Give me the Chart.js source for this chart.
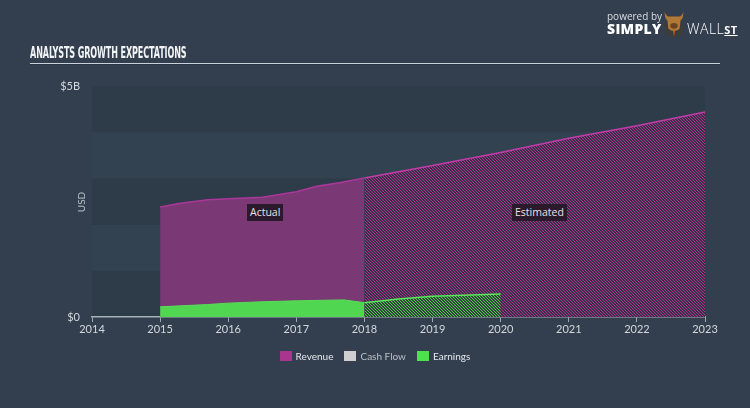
<!DOCTYPE html>
<html>
<head>
<meta charset="utf-8">
<script src="https://cdn.jsdelivr.net/npm/chart.js@4/dist/chart.umd.min.js"></script>
<style>
  html, body { margin: 0; padding: 0; }
  body {
    width: 750px; height: 408px; overflow: hidden; position: relative;
    background: #333f4e;
    font-family: Lato, "Open Sans", sans-serif;
  }
  #wrap { position: absolute; left: 0; top: 0; width: 750px; height: 408px; }
  .title {
    position: absolute; left: 30px; top: 43px;
    font-family: "Liberation Sans Narrow", "DejaVu Sans Condensed", sans-serif;
    font-weight: bold; font-size: 16px; color: #f2f4f6; letter-spacing: -0.2px;
    transform: scaleX(0.56); transform-origin: left top; white-space: nowrap;
  }
  .rule { position: absolute; left: 30px; top: 63px; width: 690px; height: 1px; background: #c9d1da; box-shadow: 0 1px 0 #283340; }
  .logo { position: absolute; left: 607px; top: 8px; color: #fff; }
  .logo .pw { position: absolute; left: 0; top: 1px; font-size: 10px; color: #d8dde2; white-space: nowrap; font-family: "Open Sans", sans-serif; }
  .logo .simply { position: absolute; left: 0; top: 11px; font-size: 14px; font-weight: 800; letter-spacing: 0.3px; font-family: "Open Sans", sans-serif; }
  .logo .wall { position: absolute; left: 80px; top: 11px; font-size: 14px; font-weight: 300; letter-spacing: 0.5px; font-family: "Open Sans", sans-serif; white-space: nowrap; }
  .logo .wall u { font-weight: 700; font-size: 11px; }
  .logo svg { position: absolute; left: 53px; top: 0px; }
  .tag {
    position: absolute; top: 204px; height: 17px; line-height: 17px; padding: 0 3px;
    background: #2b1a2b; color: #e6e2e6; font-size: 10.5px;
    font-family: "Open Sans", sans-serif;
  }
  .usd { position: absolute; left: 70px; top: 196px; width: 22px; text-align: center; transform: rotate(-90deg); font-size: 10px; color: #b6bec7; }
  .legend { position: absolute; top: 350px; left: 0; width: 750px; display: flex; justify-content: center; gap: 11px; font-size: 10px; }
  .legend .it { display: flex; align-items: center; gap: 4px; color: #e4e8ec; }
  .legend .sw { width: 12px; height: 10px; display: inline-block; }
</style>
</head>
<body>
<div id="wrap"><canvas id="chart" width="750" height="408"></canvas></div>
<div class="title">ANALYSTS GROWTH EXPECTATIONS</div>
<div class="rule"></div>
<div class="logo">
  <span class="pw">powered by</span>
  <span class="simply">SIMPLY</span>
  <svg width="28" height="30" viewBox="0 0 28 32">
    <circle cx="14" cy="21" r="11" fill="#3c3c3c"/>
    <path d="M4 4 Q6 10 9 9 L19 9 Q22 10 24 4 Q24 12 21 13 L20 22 Q14 27 8 22 L7 13 Q4 12 4 4 Z" fill="#b07a36"/>
    <ellipse cx="14" cy="19" rx="4" ry="3" fill="#6b4420"/>
    <path d="M13 24 L15 24 L14 31 Z" fill="#e05020"/>
  </svg>
  <span class="wall">WALL<u>ST</u></span>
</div>
<div class="usd">USD</div>
<div class="tag" style="left:247px;">Actual</div>
<div class="tag" style="left:512px;">Estimated</div>
<div class="legend">
  <div class="it"><span class="sw" style="background:#a8358e"></span>Revenue</div>
  <div class="it" style="color:#b9c0c7"><span class="sw" style="background:#cfcfcf"></span>Cash Flow</div>
  <div class="it"><span class="sw" style="background:#4fe04f"></span>Earnings</div>
</div>
<script>
// values in $B, x = year
const revenueActualX = [2015, 2015.3, 2015.7, 2016, 2016.5, 2017, 2017.3, 2017.65, 2018];
const revenueActualY = [2.38, 2.46, 2.54, 2.56, 2.59, 2.71, 2.83, 2.91, 3.01];
const revenueEstX = [2018, 2019, 2020, 2021, 2022, 2023];
const revenueEstY = [3.01, 3.28, 3.56, 3.87, 4.14, 4.44];
const earningsActualX = [2015, 2015.7, 2016, 2016.5, 2017, 2017.7, 2018];
const earningsActualY = [0.22, 0.27, 0.30, 0.33, 0.35, 0.37, 0.31];
const earningsEstX = [2018, 2018.5, 2019, 2020];
const earningsEstY = [0.31, 0.39, 0.45, 0.50];
const yearTicks = [2014, 2015, 2016, 2017, 2018, 2019, 2020, 2021, 2022, 2023];

const pts = (xs, ys) => xs.map((x, i) => ({ x, y: ys[i] }));

function hatch(bg, line) {
  const c = document.createElement('canvas');
  c.width = 3; c.height = 3;
  const g = c.getContext('2d');
  g.fillStyle = bg; g.fillRect(0, 0, 3, 3);
  g.fillStyle = line;
  for (let i = 0; i < 3; i++) g.fillRect(i, i, 1, 1);
  return g.createPattern(c, 'repeat');
}

const bands = {
  id: 'bands',
  beforeDraw(chart) {
    const { ctx, chartArea: a, scales: { y } } = chart;
    for (let v = 0; v < 5; v++) {
      ctx.fillStyle = v % 2 === 0 ? '#2e3b49' : '#334251';
      const top = y.getPixelForValue(v + 1), bot = y.getPixelForValue(v);
      ctx.fillRect(a.left, top, a.right - a.left, bot - top);
    }
  }
};

new Chart(document.getElementById('chart'), {
  type: 'line',
  data: {
    datasets: [
      { label: 'Earnings', data: pts(earningsActualX, earningsActualY), order: 1,
        fill: 'origin', backgroundColor: '#51d651', borderColor: '#55e055', borderWidth: 1 },
      { label: 'Earnings est', data: pts(earningsEstX, earningsEstY), order: 1,
        fill: 'origin', backgroundColor: hatch('#34473f', '#4ec64e'), borderColor: '#58e858', borderWidth: 1.5 },
      { label: 'Revenue', data: pts(revenueActualX, revenueActualY), order: 2,
        fill: 'origin', backgroundColor: '#7a3874', borderColor: '#a9389a', borderWidth: 1.5 },
      { label: 'Revenue est', data: pts(revenueEstX, revenueEstY), order: 2,
        fill: 'origin', backgroundColor: hatch('#3a2f48', '#a8368f'), borderColor: '#c13daa', borderWidth: 1.5 }
    ]
  },
  options: {
    responsive: false,
    animation: false,
    devicePixelRatio: 1,
    elements: { point: { radius: 0 }, line: { tension: 0 } },
    layout: { padding: { left: 0, right: 45, top: 86, bottom: 0 } },
    plugins: { legend: { display: false }, tooltip: { enabled: false } },
    scales: {
      x: {
        type: 'linear', min: 2014, max: 2023,
        afterFit: s => { s.height = 91; },
        afterBuildTicks: s => { s.ticks = yearTicks.map(v => ({ value: v })); },
        grid: { drawOnChartArea: false, drawTicks: true, tickLength: 5, color: '#9da8b3' },
        border: { color: '#a7b1bb', width: 1.5 },
        ticks: { color: '#d2d7dc', padding: 1, font: { family: 'Lato', size: 11 }, callback: v => String(v) }
      },
      y: {
        min: 0, max: 5,
        afterFit: s => { s.width = 92; },
        afterBuildTicks: s => { s.ticks = [{ value: 0 }, { value: 5 }]; },
        grid: { display: false },
        border: { display: false },
        ticks: { color: '#d2d7dc', padding: 4, font: { family: 'Lato', size: 11 },
          callback: v => v === 0 ? '$0' : '$' + v + 'B' }
      }
    }
  },
  plugins: [bands]
});
</script>
</body>
</html>
